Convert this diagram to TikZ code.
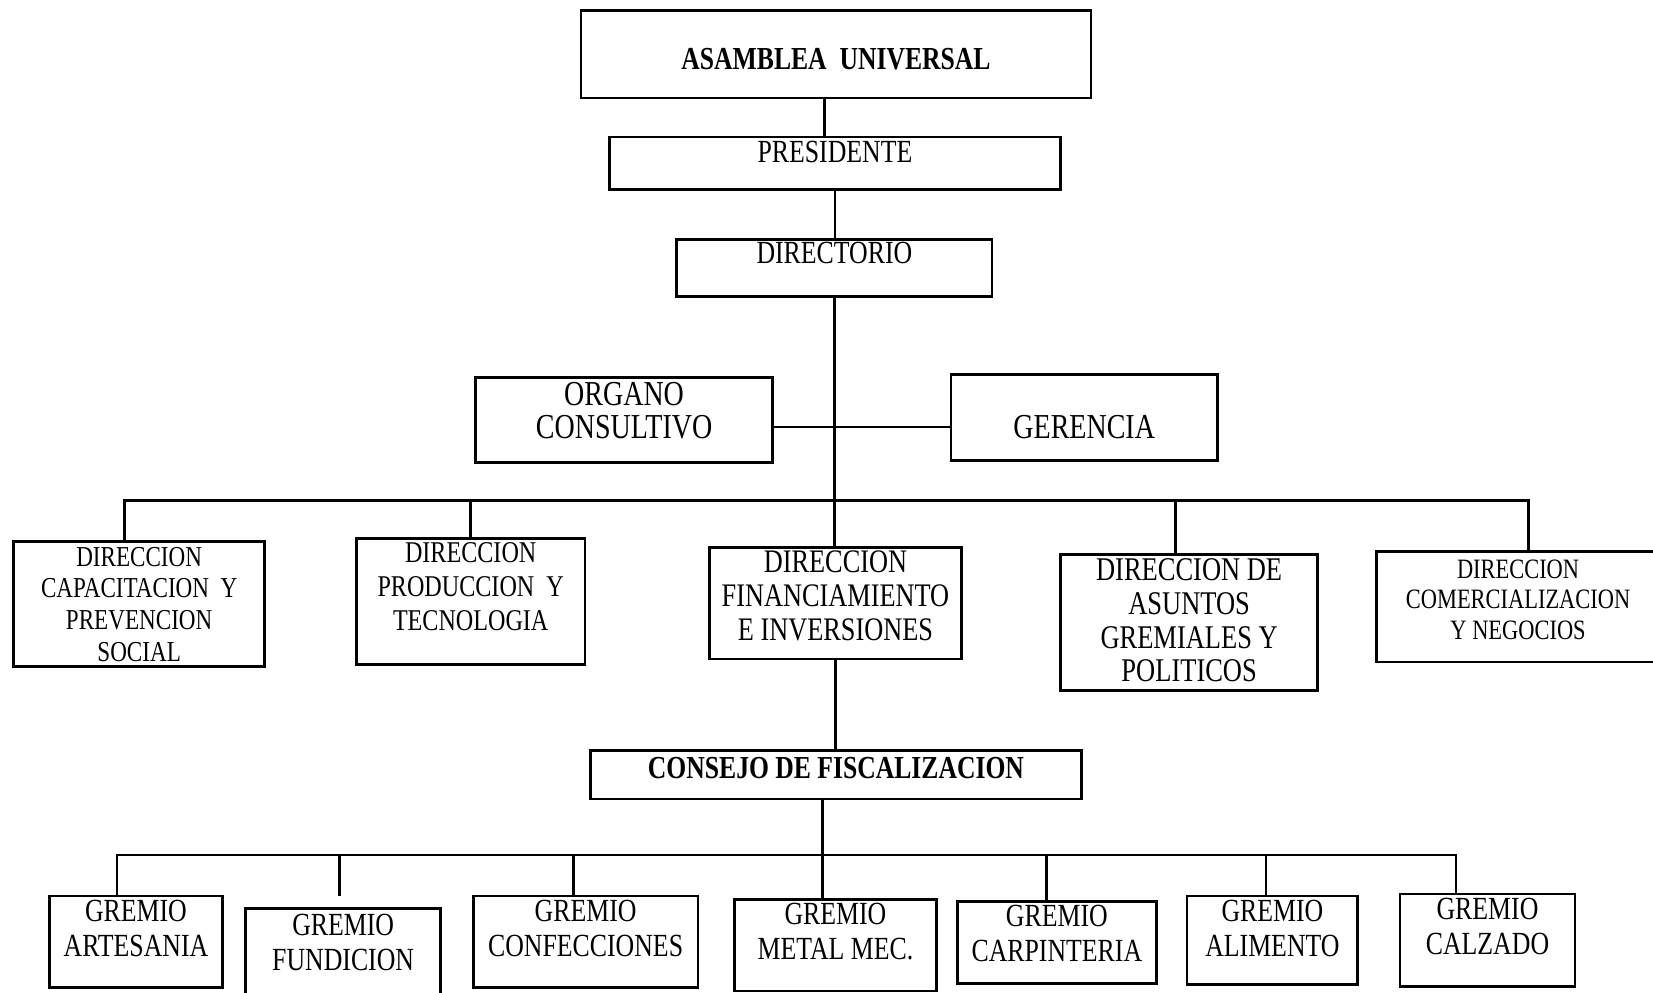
\documentclass[tikz,border=0pt]{standalone}
\usepackage{fontspec}
\setmainfont{Liberation Serif}[FakeStretch=0.8]

\newdimen\pxu \pxu=0.5pt
%% box text: width, height, top gap, text
\newcommand{\cel}[4]{\parbox[c][#2\pxu][t]{#1\pxu}{\centering\vspace*{#3\pxu}#4\par}}

\begin{document}
\begin{tikzpicture}[x=0.5pt, y=-0.5pt, line width=1.3pt,
  caja/.style={draw, inner sep=0pt, font=\fontsize{15.3}{16.5}\selectfont},
  grande/.style={font=\fontsize{16.6}{15.5}\selectfont},
  negrita/.style={font=\fontsize{15.2}{16}\selectfont\bfseries}]

\useasboundingbox (0,0) rectangle (1568,941);

%% top
\node[caja, negrita] (asamblea) at (793,51.5) {\cel{484}{83}{36}{ASAMBLEA\ \ UNIVERSAL}};
\node[caja] (presidente) at (792,155) {\cel{428}{50}{4}{PRESIDENTE}};
\node[caja] (directorio) at (791.5,254) {\cel{299}{54}{3}{DIRECTORIO}};

%% staff
\node[caja, grande] (organo) at (592,398.5) {\cel{282}{81}{5}{ORGANO\\CONSULTIVO}};
\node[caja, grande] (gerencia) at (1028.5,396) {\cel{253}{82}{39}{GERENCIA}};

%% direcciones
\node[caja, font=\fontsize{13.7}{15}\selectfont] (capacitacion) at (132,573) {\cel{238}{118}{5}{DIRECCION\\CAPACITACION\ \ Y\\PREVENCION\\SOCIAL}};
\node[caja, font=\fontsize{14.3}{16}\selectfont] (produccion) at (446.5,570.5) {\cel{217}{119}{4}{DIRECCION\\PRODUCCION\ \ Y\\TECNOLOGIA}};
\node[caja, font=\fontsize{15.6}{16.25}\selectfont] (financiamiento) at (792.5,572) {\cel{239}{106}{3}{DIRECCION\\FINANCIAMIENTO\\E INVERSIONES}};
\node[caja, font=\fontsize{15.7}{16}\selectfont] (asuntos) at (1128,590.5) {\cel{244}{129}{4}{DIRECCION DE\\ASUNTOS\\GREMIALES Y\\POLITICOS}};
\node[caja, font=\fontsize{13.3}{14.4}\selectfont] (comercializacion) at (1440,575.5) {\cel{268}{105}{8}{DIRECCION\\COMERCIALIZACION\\Y NEGOCIOS}};

%% consejo
\node[caja, negrita] (consejo) at (793,735) {\cel{466}{46}{6}{CONSEJO DE FISCALIZACION}};

%% gremios
\node[caja] (artesania) at (129,893.5) {\cel{164}{87}{4}{GREMIO\\ARTESANIA}};
\node[caja] (fundicion) at (325.5,906) {\cel{185}{88}{5}{GREMIO\\FUNDICION}};
\node[caja] (confecciones) at (555.5,893.5) {\cel{213}{87}{4}{GREMIO\\CONFECCIONES}};
\node[caja] (metal) at (792.5,896.5) {\cel{191}{87}{4}{GREMIO\\METAL MEC.}};
\node[caja] (carpinteria) at (1002.5,894) {\cel{189}{78}{4}{GREMIO\\CARPINTERIA}};
\node[caja] (alimento) at (1207,892) {\cel{162}{84}{4}{GREMIO\\ALIMENTO}};
\node[caja] (calzado) at (1411,892) {\cel{166}{88}{4}{GREMIO\\CALZADO}};

%% points on the lines
\coordinate (cruce) at (791,405);
\coordinate (busL) at (118,475);
\coordinate (busR) at (1450,475);
\coordinate (gbusL) at (111,811);
\coordinate (gbusR) at (1381,811);
\coordinate (a1) at ([xshift=-5.5pt]asamblea.south);
\coordinate (d4) at ([xshift=-6.5pt]asuntos.north);
\coordinate (c1) at ([xshift=-6.5pt]consejo.south);
\coordinate (g2) at ([xshift=-1.75pt,yshift=5.5pt]fundicion.north);
\coordinate (g3) at ([xshift=-5.75pt]confecciones.north);
\coordinate (g5) at ([xshift=-4.75pt]carpinteria.north);
\coordinate (g6) at ([xshift=-3pt]alimento.north);

%% lines
\draw (a1) -- (a1 |- presidente.north);
\draw (presidente.south) -- (presidente.south |- directorio.north);
\draw (directorio.south) -- (directorio.south |- financiamiento.north);
\draw (organo.east |- cruce) -- (gerencia.west |- cruce);
\draw (busL |- capacitacion.north) -- (busL) -- (busR) -- (busR |- comercializacion.north);
\draw (produccion.north |- busL) -- (produccion.north);
\draw (d4 |- busL) -- (d4);
\draw (financiamiento.south) -- (financiamiento.south |- consejo.north);
\draw (c1) -- (c1 |- metal.north);
\draw (gbusL |- artesania.north) -- (gbusL) -- (gbusR) -- (gbusR |- calzado.north);
\draw (g2 |- gbusL) -- (g2);
\draw (g3 |- gbusL) -- (g3);
\draw (g5 |- gbusL) -- (g5);
\draw (g6 |- gbusL) -- (g6);

\end{tikzpicture}
\end{document}
